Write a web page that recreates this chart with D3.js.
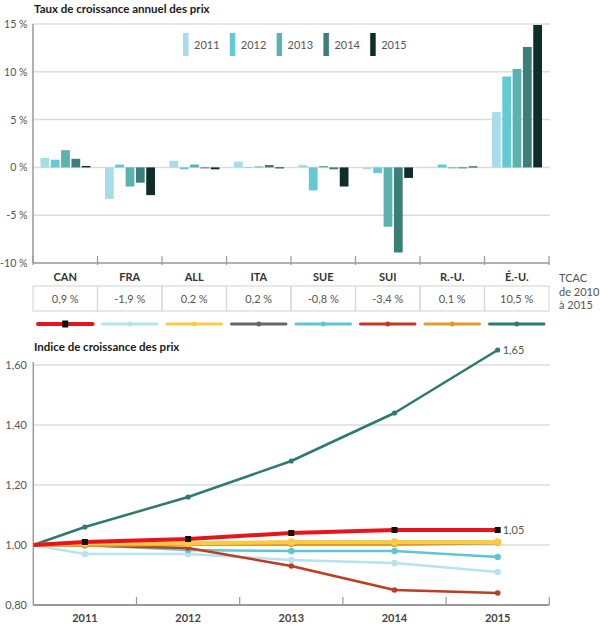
<!DOCTYPE html>
<html><head><meta charset="utf-8">
<script src="https://cdn.jsdelivr.net/npm/d3@7"></script>
<style>
body{margin:0;background:#fff;}
svg{display:block;font-family:Lato,"Open Sans",sans-serif;}
</style></head>
<body><svg id="c" width="600" height="627"></svg>
<script>
const countries = ["CAN","FRA","ALL","ITA","SUE","SUI","R.-U.","É.-U."];
const years = ["2011","2012","2013","2014","2015"];
const growth2011 = [1.0, -3.3, 0.7, 0.6, 0.25, -0.2, 0.05, 5.8];
const growth2012 = [0.8, 0.3, -0.2, -0.05, -2.4, -0.6, 0.3, 9.5];
const growth2013 = [1.8, -2.0, 0.3, 0.1, 0.15, -6.2, -0.1, 10.3];
const growth2014 = [0.9, -1.6, -0.1, 0.25, -0.2, -8.9, -0.1, 12.6];
const growth2015 = [0.15, -2.9, -0.2, -0.1, -2.0, -1.1, 0.1, 14.9];
const cagrLabels = ["0,9 %","-1,9 %","0,2 %","0,2 %","-0,8 %","-3,4 %","0,1 %","10,5 %"];
const topTicks = [15,10,5,0,-5,-10];
const yearColors = ["#a8dcea","#63c9d3","#5cb2ae","#3b7f78","#0f2e2a"];

const baseIndex = 1.00;
const idxCAN = [1.01, 1.02, 1.04, 1.05, 1.05];
const idxFRA = [0.97, 0.97, 0.95, 0.94, 0.91];
const idxALL = [1.007, 1.006, 1.01, 1.01, 1.01];
const idxITA = [1.006, 1.005, 1.006, 1.008, 1.007];
const idxSUE = [1.0, 0.983, 0.98, 0.98, 0.96];
const idxSUI = [0.998, 0.99, 0.93, 0.85, 0.84];
const idxRU  = [1.0, 1.003, 1.003, 1.003, 1.008];
const idxUS  = [1.06, 1.16, 1.28, 1.44, 1.65];
const lineTicks = [0.80, 1.00, 1.20, 1.40, 1.60];
const lineColors = ["#e8141d","#b5e3f0","#f8cb45","#666666","#5ec6d0","#c13a22","#e29b2b","#2d7a70"];

const svg = d3.select("#c");
const fmtFr = d => d.toFixed(2).replace(".", ",");

// ---------- TOP CHART ----------
const xT = d3.scaleBand().domain(countries).range([33, 549]);
const yT = d3.scaleLinear().domain([-10, 15]).range([263, 24]);
const xIn = d3.scaleBand().domain(years).range([7.5, 57.5]).paddingInner(0.15);
const growth = [growth2011, growth2012, growth2013, growth2014, growth2015];

svg.append("text").attr("x", 34).attr("y", 13).attr("font-size", 11.5).attr("font-weight", 700)
  .attr("fill", "#1a1a1a").text("Taux de croissance annuel des prix");

const gT = svg.append("g");
gT.selectAll("line.grid").data(topTicks.filter(t => t > -10)).join("line")
  .attr("x1", 33).attr("x2", 550).attr("y1", d => yT(d)).attr("y2", d => yT(d))
  .attr("stroke", "#dcdcdc").attr("stroke-width", 1.5);
gT.selectAll("text.tick").data(topTicks).join("text")
  .attr("x", 27.5).attr("y", d => yT(d) + 4).attr("text-anchor", "end")
  .attr("font-size", 10.6).attr("fill", "#555").text(d => d + " %");

// bars
countries.forEach((c, ci) => {
  years.forEach((yr, yi) => {
    const v = growth[yi][ci];
    gT.append("rect")
      .attr("x", xT(c) + xIn(yr)).attr("width", xIn.bandwidth())
      .attr("y", yT(Math.max(0, v))).attr("height", Math.abs(yT(v) - yT(0)))
      .attr("fill", yearColors[yi]);
  });
});

// axes
gT.append("line").attr("x1", 33).attr("x2", 33).attr("y1", 24).attr("y2", 263).attr("stroke", "#999").attr("stroke-width", 1.5);
gT.append("line").attr("x1", 33).attr("x2", 550).attr("y1", 263).attr("y2", 263).attr("stroke", "#999").attr("stroke-width", 1.5);
const bounds = countries.map(c => xT(c)).concat([xT.range()[1]]);
gT.selectAll("line.bt").data(bounds).join("line")
  .attr("x1", d => d).attr("x2", d => d).attr("y1", 256).attr("y2", 265)
  .attr("stroke", "#999").attr("stroke-width", 1.2);

// legend
years.forEach((yr, i) => {
  const lx = 183 + i * 46.8;
  svg.append("rect").attr("x", lx).attr("y", 33).attr("width", 5.5).attr("height", 23).attr("fill", yearColors[i]);
  svg.append("text").attr("x", lx + 11).attr("y", 49).attr("font-size", 11).attr("fill", "#555").text(yr);
});

// category labels
svg.selectAll("text.cat").data(countries).join("text")
  .attr("x", d => xT(d) + xT.bandwidth() / 2).attr("y", 281).attr("text-anchor", "middle")
  .attr("font-size", 11).attr("font-weight", 700).attr("fill", "#333").text(d => d);

// CAGR table
countries.forEach((c, i) => {
  svg.append("rect").attr("x", xT(c)).attr("y", 286).attr("width", xT.bandwidth()).attr("height", 25)
    .attr("fill", "none").attr("stroke", "#d9d9d9").attr("stroke-width", 1.2);
  svg.append("text").attr("x", xT(c) + xT.bandwidth() / 2).attr("y", 302.5).attr("text-anchor", "middle")
    .attr("font-size", 11).attr("fill", "#555").text(cagrLabels[i]);
});
["TCAC", "de 2010", "à 2015"].forEach((t, i) => {
  svg.append("text").attr("x", 559).attr("y", 282 + i * 13.5).attr("font-size", 11).attr("fill", "#555").text(t);
});

// line legend under table
countries.forEach((c, i) => {
  const x0 = xT(c) + 5, x1 = xT(c) + xT.bandwidth() - 5, yy = 324;
  svg.append("line").attr("x1", x0).attr("x2", x1).attr("y1", yy).attr("y2", yy)
    .attr("stroke", lineColors[i]).attr("stroke-width", i === 0 ? 4 : 3).attr("stroke-linecap", "round");
  if (i === 0) {
    svg.append("rect").attr("x", (x0 + x1) / 2 - 3).attr("y", yy - 3.5).attr("width", 6).attr("height", 7).attr("fill", "#111");
  } else {
    svg.append("circle").attr("cx", (x0 + x1) / 2).attr("cy", yy).attr("r", 2.5).attr("fill", lineColors[i]);
  }
});

// ---------- LINE CHART ----------
const xL = d3.scaleBand().domain(years).range([33.3, 549.3]);
const yL = d3.scaleLinear().domain([0.8, 1.6]).range([605, 365]);

svg.append("text").attr("x", 34).attr("y", 351).attr("font-size", 11.5).attr("font-weight", 700)
  .attr("fill", "#1a1a1a").text("Indice de croissance des prix");

const gL = svg.append("g");
gL.selectAll("line.grid").data(lineTicks.filter(t => t > 0.8)).join("line")
  .attr("x1", 33).attr("x2", 550).attr("y1", d => yL(d)).attr("y2", d => yL(d))
  .attr("stroke", "#dcdcdc").attr("stroke-width", 1.5);
gL.selectAll("text.tick").data(lineTicks).join("text")
  .attr("x", 27).attr("y", d => yL(d) + 4).attr("text-anchor", "end")
  .attr("font-size", 11).attr("fill", "#555").text(d => fmtFr(d));

gL.append("line").attr("x1", 33.3).attr("x2", 33.3).attr("y1", 362).attr("y2", 605).attr("stroke", "#999").attr("stroke-width", 1.5);

const series = [
  {name:"É.-U.", vals: idxUS,  color: lineColors[7], w: 2.5, m: "c", r: 2.6},
  {name:"FRA",  vals: idxFRA, color: lineColors[1], w: 2.5, m: "c", r: 3.2},
  {name:"SUE",  vals: idxSUE, color: lineColors[4], w: 2.5, m: "c", r: 3.2},
  {name:"SUI",  vals: idxSUI, color: lineColors[5], w: 2.5, m: "c", r: 2.8},
  {name:"ITA",  vals: idxITA, color: lineColors[3], w: 2.5, m: "c", r: 2.8},
  {name:"R.-U.", vals: idxRU, color: lineColors[6], w: 4, m: "c", r: 3.2},
  {name:"ALL",  vals: idxALL, color: lineColors[2], w: 4, m: "c", r: 3.8},
  {name:"CAN",  vals: idxCAN, color: lineColors[0], w: 4, m: "s", r: 3}
];
const px = yr => xL(yr) + xL.bandwidth() / 2;
const line = d3.line().x(d => d[0]).y(d => yL(d[1]));
series.forEach(s => {
  const pts = [[xL.range()[0], baseIndex]].concat(years.map((yr, i) => [px(yr), s.vals[i]]));
  gL.append("path").attr("d", line(pts)).attr("fill", "none").attr("stroke", s.color)
    .attr("stroke-width", s.w).attr("stroke-linejoin", "round");
  years.forEach((yr, i) => {
    if (s.m === "s") {
      gL.append("rect").attr("x", px(yr) - 3).attr("y", yL(s.vals[i]) - 3).attr("width", 6).attr("height", 6).attr("fill", "#111");
    } else {
      gL.append("circle").attr("cx", px(yr)).attr("cy", yL(s.vals[i])).attr("r", s.r).attr("fill", s.color);
    }
  });
});

// end labels
[idxUS, idxCAN].forEach(v => {
  gL.append("text").attr("x", px("2015") + 5).attr("y", yL(v[4]) + 4).attr("font-size", 11).attr("fill", "#555")
    .text(fmtFr(v[4]));
});

// bottom axis
gL.append("line").attr("x1", 33).attr("x2", 549.3).attr("y1", 605).attr("y2", 605).attr("stroke", "#999").attr("stroke-width", 2);
gL.selectAll("line.xt").data(years).join("line")
  .attr("x1", d => xL(d) + xL.bandwidth()).attr("x2", d => xL(d) + xL.bandwidth())
  .attr("y1", 597).attr("y2", 605).attr("stroke", "#999").attr("stroke-width", 1.2);
gL.selectAll("text.xl").data(years).join("text")
  .attr("x", d => px(d)).attr("y", 622).attr("text-anchor", "middle")
  .attr("font-size", 11).attr("font-weight", 700).attr("fill", "#444").text(d => d);
</script></body></html>
